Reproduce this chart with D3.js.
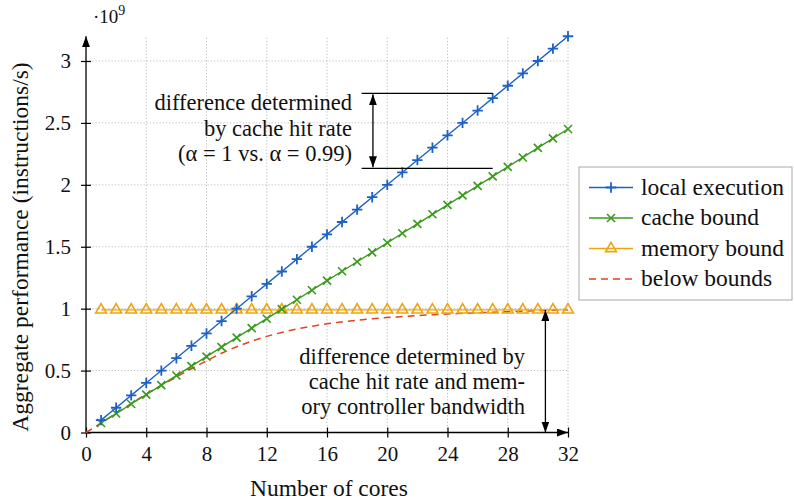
<!DOCTYPE html>
<html>
<head>
<meta charset="utf-8">
<script src="https://cdn.jsdelivr.net/npm/d3@7"></script>
<style>
  body { margin: 0; background: #fff; }
</style>
</head>
<body>
<div id="chart"></div>
<script>
// cores (x) and performance values in units of 1e9 instructions/s
const cores = [1,2,3,4,5,6,7,8,9,10,11,12,13,14,15,16,17,18,19,20,21,22,23,24,25,26,27,28,29,30,31,32];
const localExec = [0.1,0.2,0.3,0.4,0.5,0.6,0.7,0.8,0.9,1.0,1.1,1.2,1.3,1.4,1.5,1.6,
                   1.7,1.8,1.9,2.0,2.1,2.2,2.3,2.4,2.5,2.6,2.7,2.8,2.9,3.0,3.1,3.2];
const cacheBound = [0.077,0.153,0.23,0.306,0.383,0.46,0.536,0.613,0.689,0.766,0.843,0.919,0.996,1.072,1.149,1.226,
                    1.302,1.379,1.455,1.532,1.609,1.685,1.762,1.838,1.915,1.992,2.068,2.145,2.221,2.298,2.375,2.451];
const memoryBound = [0.99,0.99,0.99,0.99,0.99,0.99,0.99,0.99,0.99,0.99,0.99,0.99,0.99,0.99,0.99,0.99,
                     0.99,0.99,0.99,0.99,0.99,0.99,0.99,0.99,0.99,0.99,0.99,0.99,0.99,0.99,0.99,0.99];
const belowCores = [0,1,2,3,4,5,6,7,8,9,10,11,12,13,14,15,16,17,18,19,20,21,22,23,24,25,26,27,28,29,30,31,32];
const belowBounds = [0,0.077,0.155,0.233,0.31,0.38,0.448,0.515,0.578,0.64,0.692,0.737,0.776,0.808,0.836,0.858,0.878,
                     0.893,0.906,0.918,0.928,0.936,0.944,0.951,0.957,0.962,0.967,0.972,0.976,0.98,0.984,0.988,0.991];
const xTicks = [0,4,8,12,16,20,24,28,32];
const yTicks = [0,0.5,1,1.5,2,2.5,3];
const seriesNames = ["local execution","cache bound","memory bound","below bounds"];

const width = 794, height = 503;
const FONT = '"Liberation Serif", "Times New Roman", serif';
const blue = "#1c62c4", green = "#3a9a1c", orange = "#efa40c", red = "#e2421f";

const svg = d3.select("#chart").append("svg")
    .attr("width", width)
    .attr("height", height)
    .style("font-family", FONT);

const defs = svg.append("defs");
defs.append("marker")
    .attr("id", "arrow")
    .attr("viewBox", "0 0 11 8")
    .attr("refX", 11).attr("refY", 4)
    .attr("markerWidth", 11).attr("markerHeight", 8)
    .attr("markerUnits", "userSpaceOnUse")
    .attr("orient", "auto-start-reverse")
    .append("path")
    .attr("d", "M0,0 L11,4 L0,8 Z")
    .attr("fill", "#000");

const x = d3.scaleLinear().domain([0, 32]).range([86, 568]);
const y = d3.scaleLinear().domain([0, 3]).range([432.5, 61]);

// grid
svg.append("g").selectAll("line")
    .data(xTicks.slice(1))
    .join("line")
    .attr("x1", d => x(d)).attr("x2", d => x(d))
    .attr("y1", y(0)).attr("y2", y(3.2))
    .attr("stroke", "#bdbdbd").attr("stroke-dasharray", "1.2,2");
svg.append("g").selectAll("line")
    .data(yTicks.slice(1))
    .join("line")
    .attr("x1", x(0)).attr("x2", x(32))
    .attr("y1", d => y(d)).attr("y2", d => y(d))
    .attr("stroke", "#bdbdbd").attr("stroke-dasharray", "1.2,2");

// axes
const xAxis = svg.append("g")
    .attr("transform", `translate(0,${y(0)})`)
    .call(d3.axisBottom(x).tickValues(xTicks).tickSize(5).tickPadding(9));
const yAxis = svg.append("g")
    .attr("transform", `translate(${x(0)},0)`)
    .call(d3.axisLeft(y).tickValues(yTicks).tickSize(5).tickPadding(10).tickFormat(d3.format("")));
[xAxis, yAxis].forEach(g => {
    g.select(".domain").remove();
    g.attr("font-family", null).attr("font-size", null);
    g.selectAll(".tick line").attr("stroke", "#000").attr("stroke-width", 1.2);
    g.selectAll(".tick text").attr("font-size", 21);
});
xAxis.selectAll(".tick line").attr("y1", -5);
yAxis.selectAll(".tick line").attr("x1", 5);

svg.append("line")
    .attr("x1", x(0)).attr("x2", x(32))
    .attr("y1", y(0)).attr("y2", y(0))
    .attr("stroke", "#000").attr("stroke-width", 1.3)
    .attr("marker-end", "url(#arrow)");
svg.append("line")
    .attr("x1", x(0)).attr("x2", x(0))
    .attr("y1", y(0)).attr("y2", y(3.2))
    .attr("stroke", "#000").attr("stroke-width", 1.3)
    .attr("marker-end", "url(#arrow)");

// exponent label
const expo = svg.append("text").attr("x", 93).attr("y", 23).attr("font-size", 19);
expo.append("tspan").text("·10");
expo.append("tspan").attr("dy", -8).attr("font-size", 14).text("9");

// axis titles
svg.append("text")
    .attr("x", (x(0) + x(32)) / 2 + 2).attr("y", 496)
    .attr("text-anchor", "middle").attr("font-size", 23.5)
    .text("Number of cores");
svg.append("text")
    .attr("transform", "translate(28,247) rotate(-90)")
    .attr("text-anchor", "middle").attr("font-size", 23.5)
    .text("Aggregate performance (instructions/s)");

// series lines
const line = d3.line().x(d => x(d[0])).y(d => y(d[1]));
const lineSmooth = d3.line().x(d => x(d[0])).y(d => y(d[1])).curve(d3.curveMonotoneX);

svg.append("path")
    .attr("d", lineSmooth(d3.zip(belowCores, belowBounds)))
    .attr("fill", "none").attr("stroke", red).attr("stroke-width", 1.5)
    .attr("stroke-dasharray", "7,5");

const series = [
    { vals: memoryBound, color: orange, mark: "tri" },
    { vals: cacheBound, color: green, mark: "cross" },
    { vals: localExec, color: blue, mark: "plus" }
];

function drawMark(g, type, color) {
    if (type === "plus") {
        g.append("path").attr("d", "M-5.2,0H5.2M0,-5.2V5.2")
            .attr("stroke", color).attr("stroke-width", 1.8);
    } else if (type === "cross") {
        g.append("path").attr("d", "M-4,-4L4,4M-4,4L4,-4")
            .attr("stroke", color).attr("stroke-width", 1.6);
    } else {
        g.append("path").attr("d", "M0,-6.2L5.4,3.1L-5.4,3.1Z")
            .attr("fill", "none").attr("stroke", color).attr("stroke-width", 1.6);
    }
}

series.forEach(s => {
    const pts = d3.zip(cores, s.vals);
    svg.append("path")
        .attr("d", line(pts))
        .attr("fill", "none").attr("stroke", s.color).attr("stroke-width", 1.4);
    svg.append("g").selectAll("g")
        .data(pts)
        .join("g")
        .attr("transform", d => `translate(${x(d[0])},${y(d[1])})`)
        .each(function() { drawMark(d3.select(this), s.mark, s.color); });
});

// annotation: cache hit rate
const upA = 2.739, upB = 2.133;
[upA, upB].forEach(v => {
    svg.append("line")
        .attr("x1", x(18.3)).attr("x2", x(27))
        .attr("y1", y(v)).attr("y2", y(v))
        .attr("stroke", "#000").attr("stroke-width", 1.3);
});
svg.append("line")
    .attr("x1", x(19.05)).attr("x2", x(19.05))
    .attr("y1", y(upA) + 1).attr("y2", y(upB) - 1)
    .attr("stroke", "#000").attr("stroke-width", 1.3)
    .attr("marker-start", "url(#arrow)").attr("marker-end", "url(#arrow)");
const upText = svg.append("text").attr("text-anchor", "end").attr("font-size", 22.5);
["difference determined", "by cache hit rate", "(\u03B1 = 1 vs. \u03B1 = 0.99)"].forEach((t, i) => {
    upText.append("tspan").attr("x", 352).attr("y", 110 + i * 25.5).text(t);
});

// annotation: memory bound difference
svg.append("line")
    .attr("x1", x(30.5)).attr("x2", x(30.5))
    .attr("y1", y(0.99)).attr("y2", y(0))
    .attr("stroke", "#000").attr("stroke-width", 1.3)
    .attr("marker-start", "url(#arrow)").attr("marker-end", "url(#arrow)");
const lowText = svg.append("text").attr("text-anchor", "end").attr("font-size", 22.5);
["difference determined by", "cache hit rate and mem-", "ory controller bandwidth"].forEach((t, i) => {
    lowText.append("tspan").attr("x", 525).attr("y", 364 + i * 25).text(t);
});

// legend
const legend = svg.append("g");
legend.append("rect")
    .attr("x", 579).attr("y", 167).attr("width", 213).attr("height", 133)
    .attr("fill", "#fff").attr("stroke", "#a8a8a8").attr("stroke-width", 1);
const legColors = [blue, green, orange, red];
const legMarks = ["plus", "cross", "tri", null];
seriesNames.forEach((name, i) => {
    const ly = 187.5 + i * 30.5;
    legend.append("line")
        .attr("x1", 589).attr("x2", 633).attr("y1", ly).attr("y2", ly)
        .attr("stroke", legColors[i]).attr("stroke-width", 1.5)
        .attr("stroke-dasharray", legMarks[i] ? null : "7,5");
    if (legMarks[i]) {
        drawMark(legend.append("g").attr("transform", `translate(611,${ly})`), legMarks[i], legColors[i]);
    }
    legend.append("text")
        .attr("x", 641).attr("y", ly + 7)
        .attr("font-size", 23.5)
        .text(name);
});

svg.selectAll("text").style("font-family", FONT).attr("fill", "#111");
</script>
</body>
</html>
